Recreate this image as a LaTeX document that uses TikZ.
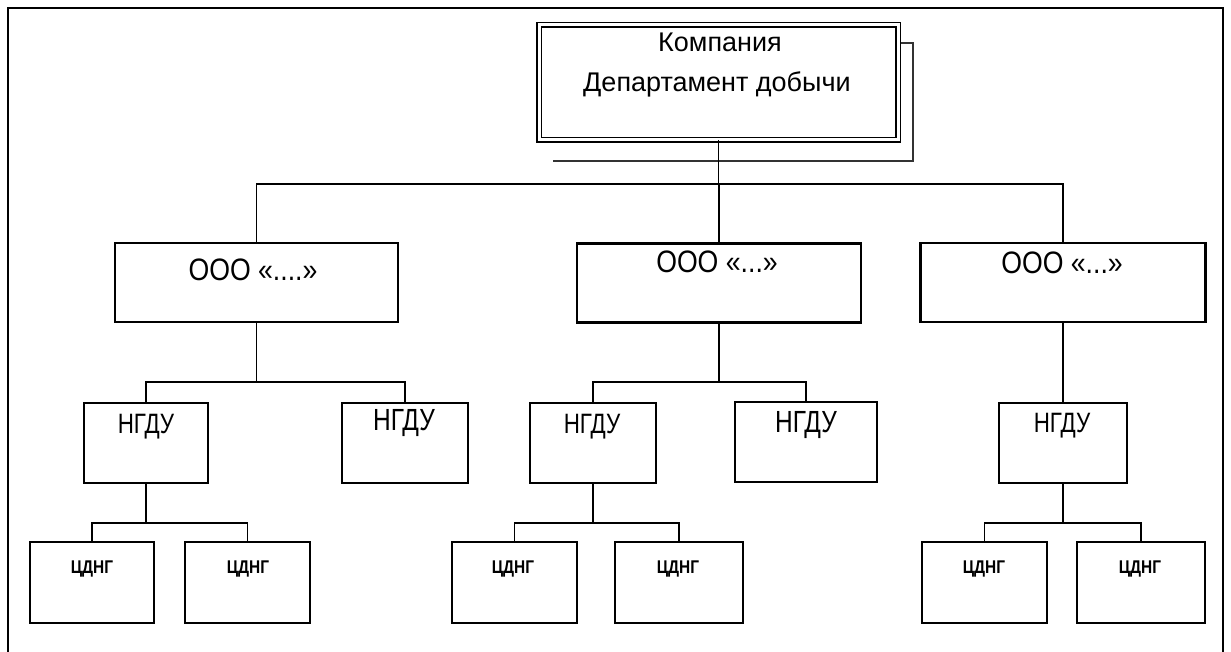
\documentclass[tikz,border=0pt]{standalone}
\usepackage{fontspec}
\setmainfont{Liberation Sans}
\newfontfamily\narrowfont[FakeStretch=0.8]{Liberation Sans}
\newfontfamily\ooofont[FakeStretch=0.86]{Liberation Sans}
\newfontfamily\narrowboldfont[FakeStretch=0.84]{Liberation Sans Bold}
\begin{document}
\begin{tikzpicture}[x=0.5pt,y=-0.5pt,
  box/.style={draw, line width=1.2pt, rectangle, inner sep=0pt, outer sep=0pt},
  obox/.style={box, minimum height=39.5pt},
  nbox/.style={box, minimum height=40pt},
  cbox/.style={box, minimum height=40.5pt},
  conn/.style={line width=0.9pt},
  frameline/.style={line width=1.4pt},
  shadowline/.style={line width=1.4pt, draw=black!80},
  ttext/.style={anchor=base, inner sep=0pt, font=\fontsize{13.5pt}{15pt}\selectfont},
  otext/.style={anchor=base, inner sep=0pt, font=\ooofont\fontsize{15.5pt}{17pt}\selectfont},
  ntext/.style={anchor=base, inner sep=0pt, font=\narrowfont\fontsize{14pt}{15pt}\selectfont},
  nbtext/.style={anchor=base, inner sep=0pt, font=\narrowfont\fontsize{15.3pt}{16pt}\selectfont},
  ctext/.style={anchor=base, inner sep=0pt, font=\narrowboldfont\fontsize{9.2pt}{10pt}\selectfont}
]
\useasboundingbox (0,0) rectangle (1231,652);
% outer frame
\draw[frameline] (8,652) -- (8,8) -- (1223,8) -- (1223,652);

% top box with shadow
\draw[shadowline] (900,43) -- (913,43) -- (913,161) -- (553,161);
\node[box, fill=white, line width=0.6pt, double, double distance=1.5pt,
      minimum width=179.5pt, minimum height=57.5pt] (top) at (718.5,82.5) {};
\node[ttext] (t0a) at (720,52) {Компания};
\node[ttext] (t0b) at (717,92) {Департамент добычи};

% level 1
\node[obox, minimum width=141.5pt] (o1) at (256.5,282.5) {};
\node[obox, minimum width=142pt]   (o2) at (719,283) {};
\node[obox, minimum width=142.5pt] (o3) at (1063,282.5) {};
\node[otext] (to1) at (253,280) {ООО «....»};
\node[otext] (to2) at (717,272) {ООО «...»};
\node[otext] (to3) at (1062,273) {ООО «...»};

% level 2
\node[nbox, minimum width=62pt] (n1) at (146,443) {};
\node[nbox, minimum width=63pt] (n2) at (405,443) {};
\node[nbox, minimum width=63pt] (n3) at (593,443) {};
\node[nbox, minimum width=71pt] (n4) at (806,442) {};
\node[nbox, minimum width=64pt] (n5) at (1063,443) {};
\node[ntext]  (tn1) at (146,433) {НГДУ};
\node[nbtext] (tn2) at (404,430) {НГДУ};
\node[ntext]  (tn3) at (592,433) {НГДУ};
\node[nbtext] (tn4) at (806,432) {НГДУ};
\node[ntext]  (tn5) at (1062,432) {НГДУ};

% level 3
\node[cbox, minimum width=62pt]   (c1) at (92,582.5) {};
\node[cbox, minimum width=62.5pt] (c2) at (247.5,582.5) {};
\node[cbox, minimum width=62.5pt] (c3) at (514.5,582.5) {};
\node[cbox, minimum width=64pt]   (c4) at (679,582.5) {};
\node[cbox, minimum width=62.5pt] (c5) at (984.5,582.5) {};
\node[cbox, minimum width=64pt]   (c6) at (1141,582.5) {};
\node[ctext] (tc1) at (92,573) {ЦДНГ};
\node[ctext] (tc2) at (248,573) {ЦДНГ};
\node[ctext] (tc3) at (513,573) {ЦДНГ};
\node[ctext] (tc4) at (678,573) {ЦДНГ};
\node[ctext] (tc5) at (984,573) {ЦДНГ};
\node[ctext] (tc6) at (1140,573) {ЦДНГ};

% bar levels
\coordinate (b0) at (0,184);
\coordinate (b1) at (0,382);
\coordinate (b2) at (0,523);

% connectors
\draw[conn] (top.south) -- (top.south |- b0);
\draw[conn] (o1.north) -- (o1.north |- b0) -- (o3.north |- b0) -- (o3.north);
\draw[conn] (o2.north) -- (o2.north |- b0);

\draw[conn] (o1.south) -- (o1.south |- b1);
\draw[conn] (n1.north) -- (n1.north |- b1) -- (n2.north |- b1) -- (n2.north);
\draw[conn] (o2.south) -- (o2.south |- b1);
\draw[conn] (n3.north) -- (n3.north |- b1) -- (n4.north |- b1) -- (n4.north);
\draw[conn] (o3.south) -- (n5.north);

\draw[conn] (n1.south) -- (n1.south |- b2);
\draw[conn] (c1.north) -- (c1.north |- b2) -- (c2.north |- b2) -- (c2.north);
\draw[conn] (n3.south) -- (n3.south |- b2);
\draw[conn] (c3.north) -- (c3.north |- b2) -- (c4.north |- b2) -- (c4.north);
\draw[conn] (n5.south) -- (n5.south |- b2);
\draw[conn] (c5.north) -- (c5.north |- b2) -- (c6.north |- b2) -- (c6.north);
\end{tikzpicture}
\end{document}
